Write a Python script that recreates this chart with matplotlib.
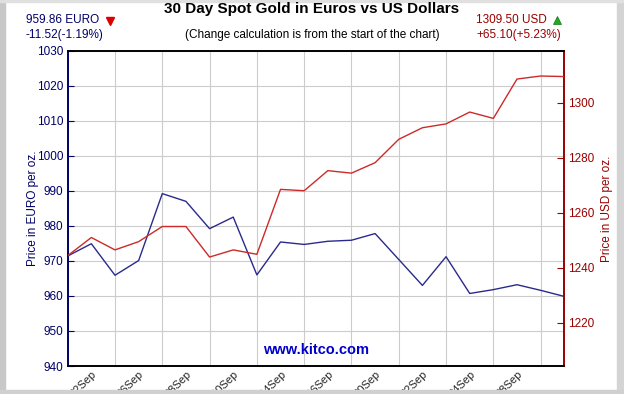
# 30 day spot gold, EUR vs USD (kitco style chart)

import matplotlib.pyplot as plt
from matplotlib.patches import Rectangle

plt.rcParams['font.family'] = ['Liberation Sans', 'DejaVu Sans']

# data, one point per trading day
eur_prices = [971.4, 974.9, 965.9, 970.1, 989.2, 987.0, 979.2, 982.5, 966.0, 975.4, 974.7,
              975.6, 975.9, 977.8, 970.4, 963.0, 971.2, 960.7, 961.8, 963.2, 961.6, 959.86]
usd_prices = [1244.4, 1251.0, 1246.5, 1249.5, 1255.0, 1255.0, 1243.9, 1246.5, 1244.9, 1268.5, 1268.0,
              1275.3, 1274.4, 1278.2, 1286.7, 1290.9, 1292.3, 1296.6, 1294.3, 1308.6, 1309.7, 1309.5]
date_labels = ['02Sep', '06Sep', '08Sep', '10Sep', '14Sep', '16Sep', '20Sep', '22Sep', '24Sep', '28Sep']
label_idx = [1, 3, 5, 7, 9, 11, 13, 15, 17, 19]

eur_ticks = [940, 950, 960, 970, 980, 990, 1000, 1010, 1020, 1030]
usd_ticks = [1220, 1240, 1260, 1280, 1300]

navy = '#000066'
darkred = '#990000'
blue_line = '#2a2a8c'
red_line = '#cc2a2a'

fig = plt.figure(figsize=(6.24, 3.94), dpi=100)
fig.patch.set_facecolor('white')

# grey frame around the image
fig.patches.append(Rectangle((0, 0), 5 / 624, 1, transform=fig.transFigure, color='#c8c8c8', zorder=0))
fig.patches.append(Rectangle((617 / 624, 0), 7 / 624, 1, transform=fig.transFigure, color='#d4d4d4', zorder=0))
fig.patches.append(Rectangle((0, 0), 1, 4 / 394, transform=fig.transFigure, color='#d0d0d0', zorder=0))
fig.patches.append(Rectangle((0, 392 / 394), 1, 2 / 394, transform=fig.transFigure, color='#e0e0e0', zorder=0))

ax = fig.add_axes([67.7 / 624, 28 / 394, 496.6 / 624, 315.3 / 394])
ax2 = ax.twinx()

x = list(range(len(eur_prices)))

ax.plot(x, eur_prices, color=blue_line, lw=1.0, zorder=3)
ax2.plot(x, usd_prices, color=red_line, lw=1.0, zorder=3)

ax.set_xlim(0, len(eur_prices) - 1)
ax.set_ylim(940, 1030)
ax2.set_ylim(1204.3, 1318.9)

# grid: vertical line at every day, horizontal at euro ticks
ax.set_xticks(x, minor=True)
ax.set_xticks(label_idx)
ax.set_xticklabels(date_labels, rotation=45, ha='right', rotation_mode='anchor', fontsize=8, color='#222222')
ax.grid(True, which='minor', axis='x', color='#cccccc', lw=0.8)
ax.grid(True, which='major', axis='y', color='#cccccc', lw=0.8)
ax.tick_params(axis='x', which='both', length=0, pad=2)

ax.set_yticks(eur_ticks)
ax.tick_params(axis='y', direction='in', length=4, color=navy, labelcolor=navy, labelsize=8.5, pad=3)
ax2.set_yticks(usd_ticks)
ax2.tick_params(axis='y', direction='in', length=5, color=darkred, labelcolor=darkred, labelsize=8.5, pad=3)

ax.set_ylabel('Price in EURO per oz.', color=navy, fontsize=8.5)
ax2.set_ylabel('Price in USD per oz.', color=darkred, fontsize=8.5)
ax.yaxis.set_label_coords(-0.058, 0.5)
ax2.yaxis.set_label_coords(1.074, 0.5)

for a in (ax, ax2):
    a.spines['left'].set_color(navy)
    a.spines['right'].set_color(darkred)
    a.spines['top'].set_color('black')
    a.spines['bottom'].set_color('black')
    for s in a.spines.values():
        s.set_linewidth(1.2)

ax.text(0.5, 0.03, 'www.kitco.com', transform=ax.transAxes, ha='center', va='bottom',
        fontsize=10.5, fontweight='bold', color='#0000cc', zorder=5)

# header texts
fig.text(312 / 624, 1 - 9 / 394, '30 Day Spot Gold in Euros vs US Dollars', ha='center', va='center',
         fontsize=11, fontweight='bold', color='black')
fig.text(312 / 624, 1 - 35 / 394, '(Change calculation is from the start of the chart)', ha='center', va='center',
         fontsize=8.5, color='black')

fig.text(26 / 624, 1 - 20 / 394, '959.86 EURO', ha='left', va='center', fontsize=8.5, color=navy)
fig.text(26 / 624, 1 - 35 / 394, '-11.52(-1.19%)', ha='left', va='center', fontsize=8.5, color=navy)
fig.text(476 / 624, 1 - 20 / 394, '1309.50 USD', ha='left', va='center', fontsize=8.5, color=darkred)
fig.text(476 / 624, 1 - 35 / 394, '+65.10(+5.23%)', ha='left', va='center', fontsize=8.5, color=darkred)

fig.lines.append(plt.Line2D([110 / 624], [1 - 21 / 394], marker='v', color='#dd0000', markersize=6,
                            transform=fig.transFigure))
fig.lines.append(plt.Line2D([557 / 624], [1 - 20 / 394], marker='^', color='#22aa22', markersize=6,
                            markeredgecolor='#117711', markeredgewidth=0.5, transform=fig.transFigure))

plt.savefig('out.png', dpi=100)
